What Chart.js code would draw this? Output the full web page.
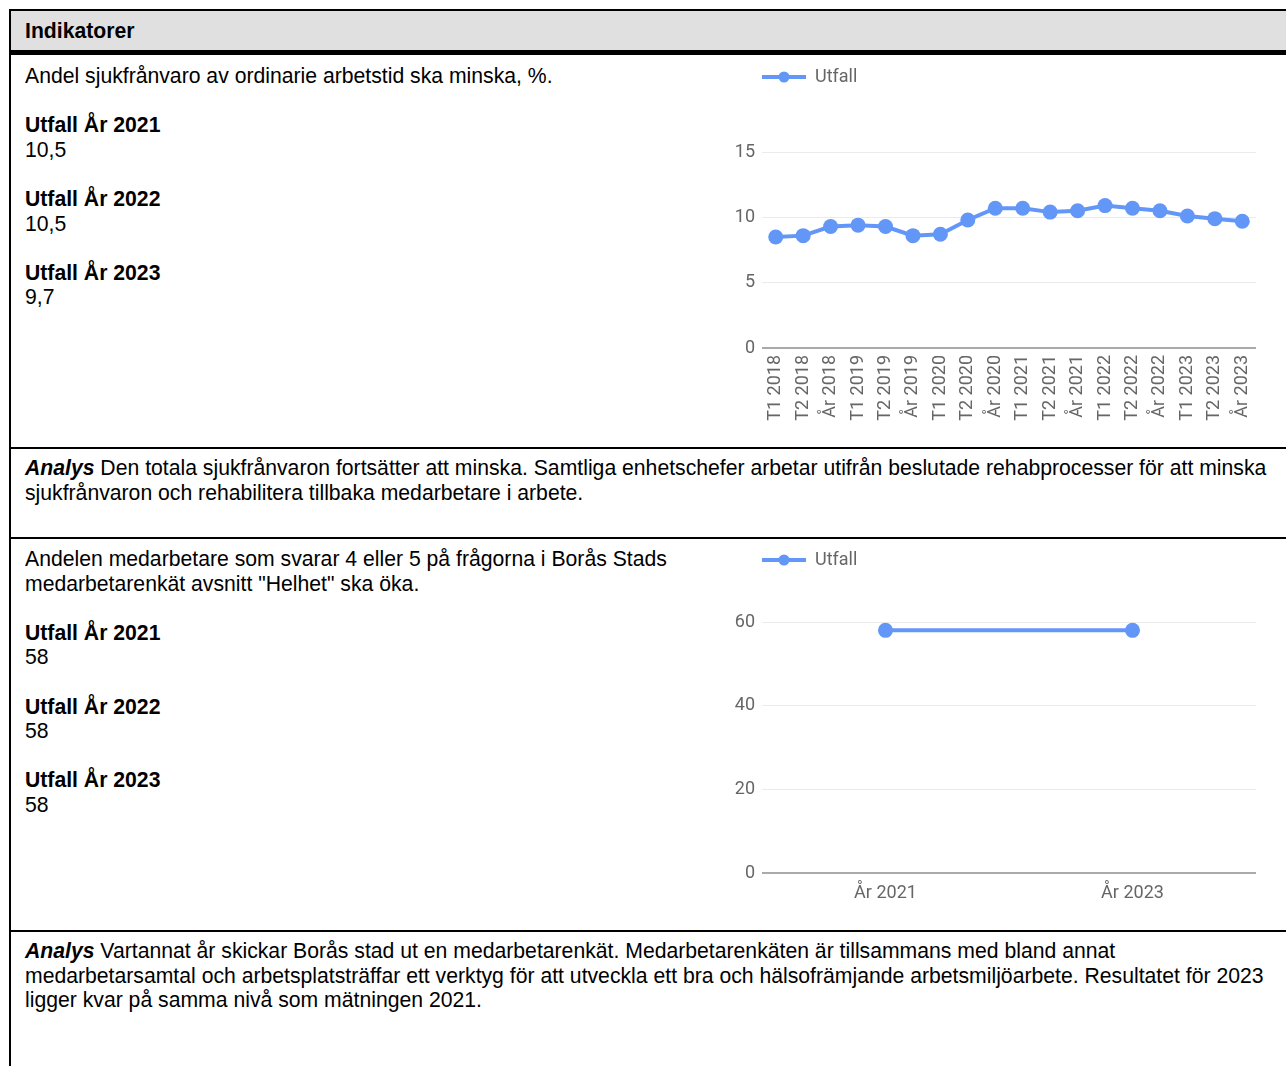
<!DOCTYPE html>
<html lang="sv">
<head>
<meta charset="utf-8">
<script src="https://cdn.jsdelivr.net/npm/chart.js@4/dist/chart.umd.min.js"></script>
<style>
  html, body { margin: 0; padding: 0; background: #fff; }
  body { width: 1286px; height: 1066px; position: relative; overflow: hidden;
         font-family: "Liberation Sans", Arial, sans-serif; color: #000; }
  .abs { position: absolute; }
  .hline { position: absolute; left: 9px; width: 1300px; background: #000; }
  .txt { position: absolute; left: 25px; font-size: 21.2px; line-height: 24.6px; white-space: nowrap; }
  .txt p { margin: 0; }
  .gap { height: 24.6px; }
  b { font-weight: bold; }
  .chartbox { position: absolute; }
</style>
</head>
<body>
  <!-- table frame -->
  <div class="abs" style="left:9px;top:9px;width:2px;height:1060px;background:#000"></div>
  <div class="hline" style="top:9px;height:2px"></div>
  <div class="abs" style="left:11px;top:11px;width:1290px;height:39px;background:#e0e0e0"></div>
  <div class="hline" style="top:50px;height:5px"></div>
  <div class="hline" style="top:447px;height:2px"></div>
  <div class="hline" style="top:537px;height:2px"></div>
  <div class="hline" style="top:930px;height:2px"></div>

  <div class="txt" style="top:18.5px"><b>Indikatorer</b></div>

  <div class="txt" style="top:64px">
    <p>Andel sjukfrånvaro av ordinarie arbetstid ska minska, %.</p>
    <div class="gap"></div>
    <p><b>Utfall År 2021</b></p><p>10,5</p>
    <div class="gap"></div>
    <p><b>Utfall År 2022</b></p><p>10,5</p>
    <div class="gap"></div>
    <p><b>Utfall År 2023</b></p><p>9,7</p>
  </div>

  <div class="txt" style="top:456px">
    <p><b><i>Analys</i></b> Den totala sjukfrånvaron fortsätter att minska. Samtliga enhetschefer arbetar utifrån beslutade rehabprocesser för att minska<br>sjukfrånvaron och rehabilitera tillbaka medarbetare i arbete.</p>
  </div>

  <div class="txt" style="top:547px">
    <p>Andelen medarbetare som svarar 4 eller 5 på frågorna i Borås Stads<br>medarbetarenkät avsnitt "Helhet" ska öka.</p>
    <div class="gap"></div>
    <p><b>Utfall År 2021</b></p><p>58</p>
    <div class="gap"></div>
    <p><b>Utfall År 2022</b></p><p>58</p>
    <div class="gap"></div>
    <p><b>Utfall År 2023</b></p><p>58</p>
  </div>

  <div class="txt" style="top:939px">
    <p><b><i>Analys</i></b> Vartannat år skickar Borås stad ut en medarbetarenkät. Medarbetarenkäten är tillsammans med bland annat<br>medarbetarsamtal och arbetsplatsträffar ett verktyg för att utveckla ett bra och hälsofrämjande arbetsmiljöarbete. Resultatet för 2023<br>ligger kvar på samma nivå som mätningen 2021.</p>
  </div>

  <div class="chartbox" style="left:720px;top:56px;width:560px;height:380px"><canvas id="c1"></canvas></div>
  <div class="chartbox" style="left:720px;top:540px;width:560px;height:390px"><canvas id="c2"></canvas></div>

<script>
// ---- data ----
const sickLabels = ['T1 2018','T2 2018','År 2018','T1 2019','T2 2019','År 2019','T1 2020','T2 2020','År 2020',
                    'T1 2021','T2 2021','År 2021','T1 2022','T2 2022','År 2022','T1 2023','T2 2023','År 2023'];
const sickValues = [8.5, 8.6, 9.3, 9.4, 9.3, 8.6, 8.7, 9.8, 10.7, 10.7, 10.4, 10.5, 10.9, 10.7, 10.5, 10.1, 9.9, 9.7];
const surveyLabels = ['År 2021', 'År 2023'];
const surveyValues = [58, 58];
const seriesName = 'Utfall';

// ---- styling ----
const BLUE = '#6397f7';
const TICK = '#666666';
const FONT = 'Roboto';

function legendIcon() {
  const c = document.createElement('canvas');
  c.width = 44; c.height = 14;
  const g = c.getContext('2d');
  g.strokeStyle = BLUE; g.lineWidth = 4;
  g.beginPath(); g.moveTo(0, 7); g.lineTo(44, 7); g.stroke();
  g.fillStyle = BLUE;
  g.beginPath(); g.arc(22, 7, 5.5, 0, Math.PI * 2); g.fill();
  return c;
}
const icon = legendIcon();

const legendGap = {
  id: 'legendGap',
  beforeLayout(chart, args, opts) {
    const lg = chart.legend;
    if (lg && !lg._gapPatched) {
      const orig = lg.fit;
      lg.fit = function () { orig.call(this); this.height += opts.extra || 0; };
      lg._gapPatched = true;
    }
  }
};

function makeChart(id, labels, values, yMax, step, padTop, extra, xHeight, rotate, xPad) {
  return new Chart(document.getElementById(id), {
    type: 'line',
    data: {
      labels: labels,
      datasets: [{
        label: seriesName,
        data: values,
        borderColor: BLUE,
        backgroundColor: BLUE,
        borderWidth: 4,
        pointRadius: 7.5,
        pointHoverRadius: 7.5,
        pointBorderWidth: 0,
        pointBackgroundColor: BLUE,
        tension: 0
      }]
    },
    plugins: [legendGap],
    options: {
      responsive: true,
      maintainAspectRatio: false,
      animation: false,
      devicePixelRatio: 1,
      layout: { padding: { top: padTop, left: 0, right: 24, bottom: 0 } },
      plugins: {
        legendGap: { extra: extra },
        tooltip: { enabled: false },
        legend: {
          display: true,
          position: 'top',
          align: 'start',
          fullSize: false,
          labels: {
            usePointStyle: true,
            pointStyle: icon,
            pointStyleWidth: 44,
            padding: 0,
            color: TICK,
            font: { family: FONT, size: 18 }
          }
        }
      },
      scales: {
        x: {
          offset: true,
          grid: { display: false, drawTicks: false },
          border: { display: false },
          ticks: {
            color: TICK,
            font: { family: FONT, size: 18 },
            padding: xPad,
            autoSkip: false,
            minRotation: rotate ? 90 : 0,
            maxRotation: rotate ? 90 : 0
          },
          afterFit(s) { s.height = xHeight; }
        },
        y: {
          min: 0,
          max: yMax,
          grid: {
            drawTicks: false,
            color: (c) => (c.tick && c.tick.value === 0) ? '#aaaaaa' : '#ebebeb',
            lineWidth: (c) => (c.tick && c.tick.value === 0) ? 2 : 1
          },
          border: { display: false },
          ticks: {
            stepSize: step,
            color: TICK,
            font: { family: FONT, size: 18 },
            padding: 7
          },
          afterFit(s) { s.width = 42; }
        }
      }
    }
  });
}

makeChart('c1', sickLabels, sickValues, 15, 5, 12, 56, 88, true, 7);
makeChart('c2', surveyLabels, surveyValues, 60, 20, 11, 43, 57, false, 10);
</script>
</body>
</html>
